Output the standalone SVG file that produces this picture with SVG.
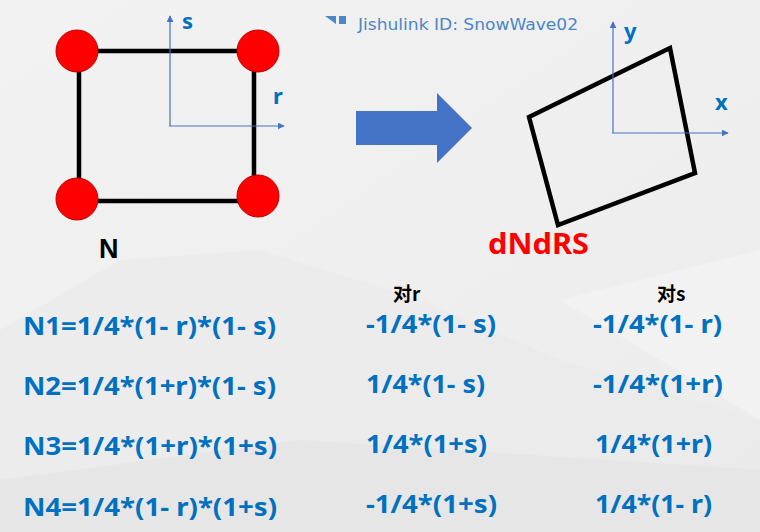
<svg xmlns="http://www.w3.org/2000/svg" width="760" height="532" viewBox="0 0 760 532">
<defs>
<marker id="ah" viewBox="0 0 10 10" refX="9" refY="5" markerWidth="7" markerHeight="7" markerUnits="userSpaceOnUse" orient="auto">
<path d="M0,0 L10,5 L0,10 z" fill="#4472c4"/>
</marker>
<linearGradient id="bg" x1="0" y1="0" x2="1" y2="1">
<stop offset="0" stop-color="#f2f2f2"/>
<stop offset="1" stop-color="#ececec"/>
</linearGradient>
</defs>
<style>
.edge{stroke:#000;stroke-width:4.5;fill:none}
.node{fill:#ff0000;stroke:#c00000;stroke-width:1}
.axis{stroke:#4472c4;stroke-width:1.2;fill:none}
.lbl{font-family:"Noto Sans","Liberation Sans",sans-serif;font-weight:bold;fill:#0070c0}
.f{font-family:"Noto Sans","Liberation Sans",sans-serif;font-weight:bold;fill:#0070c0;font-size:25px}
.hd{font-family:"Noto Sans CJK SC","Noto Sans",sans-serif;font-weight:bold;fill:#000;font-size:19px}
</style>
<rect width="760" height="532" fill="url(#bg)"/>
<polygon points="0,330 120,260 260,250 420,300 560,360 760,420 760,532 0,532" fill="#e9e9e9" opacity="0.6"/>
<polygon points="0,480 300,440 760,470 760,532 0,532" fill="#e2e2e2" opacity="0.6"/>
<polygon points="560,300 760,250 760,420" fill="#f5f5f5" opacity="0.6"/>

<g id="watermark">
<polygon points="325,16 336,16 336,24" fill="#4a86c8"/>
<rect x="339" y="16" width="7" height="8" fill="#4a86c8"/>
<text x="358" y="30" font-family="'DejaVu Sans','Liberation Sans',sans-serif" font-size="15" fill="#4a86c8" textLength="220" lengthAdjust="spacingAndGlyphs">Jishulink ID: SnowWave02</text>
</g>

<g id="connectors">
<line class="edge" x1="77" y1="51" x2="258" y2="51"/>
<line class="edge" x1="79" y1="51" x2="79" y2="199"/>
<line class="edge" x1="254" y1="51" x2="254" y2="196"/>
<line class="edge" x1="77" y1="201" x2="257" y2="201"/>
</g>

<g id="node-1"><circle class="node" cx="77" cy="51" r="21"/></g>
<g id="node-2"><circle class="node" cx="258" cy="51" r="21"/></g>
<g id="node-3"><circle class="node" cx="258" cy="196" r="21"/></g>
<g id="node-4"><circle class="node" cx="77" cy="199" r="21"/></g>

<g id="rs-axes">
<line class="axis" x1="170" y1="126" x2="170" y2="16" marker-end="url(#ah)"/>
<line class="axis" x1="169" y1="126" x2="284" y2="126" marker-end="url(#ah)"/>
<text class="lbl" x="182" y="29" font-size="22">s</text>
<text class="lbl" x="273" y="104" font-size="22">r</text>
</g>
<text id="label-N" x="99" y="258" font-family="'Liberation Sans',sans-serif" font-weight="bold" font-size="27" fill="#000">N</text>

<g id="map-arrow">
<polygon points="356,111 437,111 437,93 472,128 437,163 437,145 356,145" fill="#4472c4"/>
</g>

<g id="quad">
<polygon class="edge" points="529,117 670,48 695,173 558,225" stroke-linejoin="miter"/>
</g>
<g id="xy-axes">
<line class="axis" x1="613" y1="133" x2="613" y2="22" marker-end="url(#ah)"/>
<line class="axis" x1="612" y1="133" x2="728" y2="133" marker-end="url(#ah)"/>
<text class="lbl" x="624" y="39" font-size="22">y</text>
<text class="lbl" x="715" y="110" font-size="22">x</text>
</g>
<text id="label-dNdRS" x="488" y="254" font-family="'Noto Sans','Liberation Sans',sans-serif" font-weight="bold" font-size="28" fill="#ff0000" textLength="101" lengthAdjust="spacingAndGlyphs">dNdRS</text>

<g id="col-N">
<text class="f" x="23" y="335" textLength="253" lengthAdjust="spacingAndGlyphs">N1=1/4*(1- r)*(1- s)</text>
<text class="f" x="23" y="395" textLength="253" lengthAdjust="spacingAndGlyphs">N2=1/4*(1+r)*(1- s)</text>
<text class="f" x="23" y="455" textLength="254" lengthAdjust="spacingAndGlyphs">N3=1/4*(1+r)*(1+s)</text>
<text class="f" x="23" y="516" textLength="254" lengthAdjust="spacingAndGlyphs">N4=1/4*(1- r)*(1+s)</text>
</g>
<g id="col-r">
<text class="hd" x="393" y="301">对r</text>
<text class="f" x="366" y="333" textLength="130" lengthAdjust="spacingAndGlyphs">-1/4*(1- s)</text>
<text class="f" x="366" y="393" textLength="119" lengthAdjust="spacingAndGlyphs">1/4*(1- s)</text>
<text class="f" x="366" y="453" textLength="121" lengthAdjust="spacingAndGlyphs">1/4*(1+s)</text>
<text class="f" x="366" y="513" textLength="131" lengthAdjust="spacingAndGlyphs">-1/4*(1+s)</text>
</g>
<g id="col-s">
<text class="hd" x="657" y="301">对s</text>
<text class="f" x="593" y="333" textLength="129" lengthAdjust="spacingAndGlyphs">-1/4*(1- r)</text>
<text class="f" x="593" y="393" textLength="130" lengthAdjust="spacingAndGlyphs">-1/4*(1+r)</text>
<text class="f" x="595" y="453" textLength="117" lengthAdjust="spacingAndGlyphs">1/4*(1+r)</text>
<text class="f" x="595" y="513" textLength="117" lengthAdjust="spacingAndGlyphs">1/4*(1- r)</text>
</g>
</svg>
